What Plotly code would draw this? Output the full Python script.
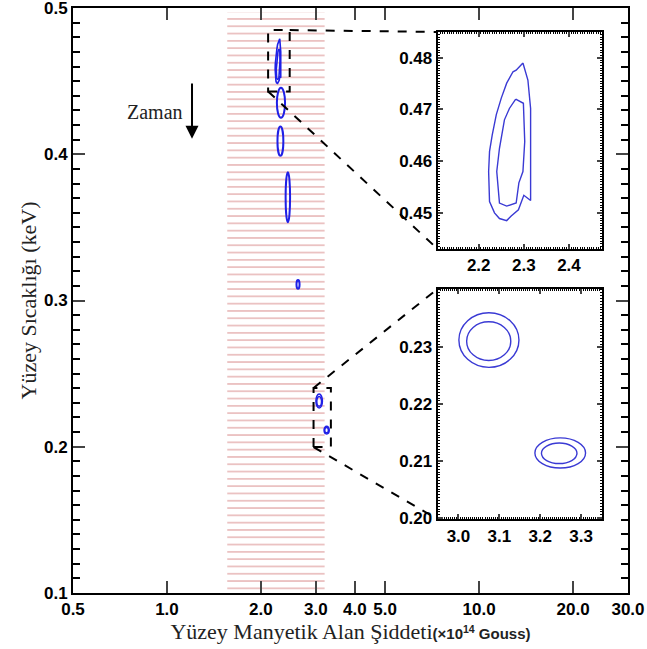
import math
import plotly.graph_objects as go

# ---------------- data ----------------
# main axes
x_tick_vals = [0.5, 1.0, 2.0, 3.0, 4.0, 5.0, 10.0, 20.0, 30.0]
x_tick_text = ["0.5", "1.0", "2.0", "3.0", "4.0", "5.0", "10.0", "20.0", "30.0"]
y_tick_vals = [0.1, 0.2, 0.3, 0.4, 0.5]
y_tick_text = ["0.1", "0.2", "0.3", "0.4", "0.5"]
x_range_main = [0.5, 30.0]
y_range_main = [0.0999, 0.5001]

# hatched band (allowed field range)
band_x = [1.56, 3.2]
band_y = [0.1, 0.497]

# contour (first epoch) - outer and inner confidence levels
c1_outer_x = [2.298, 2.283, 2.276, 2.262, 2.250, 2.239, 2.230, 2.224, 2.222, 2.224,
              2.235, 2.246, 2.262, 2.272, 2.288, 2.300, 2.315, 2.315, 2.309, 2.298]
c1_outer_y = [0.4790, 0.4776, 0.4773, 0.4751, 0.4722, 0.4690, 0.4651, 0.4619, 0.4580, 0.4522,
              0.4500, 0.4489, 0.4485, 0.4494, 0.4506, 0.4534, 0.4524, 0.4702, 0.4757, 0.4790]
c1_inner_x = [2.282, 2.299, 2.302, 2.298, 2.289, 2.283, 2.262, 2.246, 2.240, 2.246, 2.257, 2.268, 2.282]
c1_inner_y = [0.4720, 0.4712, 0.4638, 0.4580, 0.4558, 0.4519, 0.4513, 0.4519, 0.4580, 0.4625,
              0.4680, 0.4702, 0.4720]

# other epochs in main panel (bounding boxes of contours)
blob_xmin = [2.25, 2.26, 2.40, 2.60]
blob_xmax = [2.39, 2.36, 2.48, 2.66]
blob_ymin = [0.425, 0.399, 0.3536, 0.308]
blob_ymax = [0.4455, 0.419, 0.3877, 0.314]

# last two epochs (zoom panel 2): outer and inner contour bounding boxes
z2_xmin = [3.001, 3.020, 3.187, 3.203]
z2_xmax = [3.148, 3.128, 3.311, 3.290]
z2_ymin = [0.2264, 0.2276, 0.2087, 0.2095]
z2_ymax = [0.2360, 0.2344, 0.2140, 0.2131]

# zoom windows
zoom1_x = [2.109, 2.473]
zoom1_y = [0.443, 0.485]
zoom2_x = [2.949, 3.351]
zoom2_y = [0.1997, 0.2402]
zoom1_xticks = [2.2, 2.3, 2.4]
zoom1_yticks = [0.45, 0.46, 0.47, 0.48]
zoom2_xticks = [3.0, 3.1, 3.2, 3.3]
zoom2_yticks = [0.20, 0.21, 0.22, 0.23]

# ---------------- style ----------------
W, H = 647, 649
ML, MR, MT, MB = 73, 19, 8, 56
inset_xdom = [0.657, 0.953]
inset1_ydom = [0.588, 0.959]
inset2_ydom = [0.126, 0.520]
BLUE_MAIN = "#2020e6"
BLUE_IN = "#3a3ad4"
sans = "Liberation Sans, Arial, sans-serif"
tickfont = dict(family=sans, size=17, color="black")
insetfont = dict(family=sans, size=17, color="black")
serif = "Liberation Serif, Times New Roman, serif"


def bold(labels):
    return ["<b>%s</b>" % t for t in labels]


fig = go.Figure()

# hatched band
fig.add_trace(go.Scatter(
    x=[band_x[0], band_x[1], band_x[1], band_x[0], band_x[0]],
    y=[band_y[0], band_y[0], band_y[1], band_y[1], band_y[0]],
    mode="lines", fill="toself", line=dict(width=0),
    fillcolor="rgba(0,0,0,0)",
    fillpattern=dict(shape="-", size=7.3, solidity=0.24, fgcolor="#d47f7f",
                     bgcolor="rgba(0,0,0,0)"),
    hoverinfo="skip", showlegend=False, xaxis="x", yaxis="y"))

# first contour in main panel and in inset 1
for xs, ys in [(c1_outer_x, c1_outer_y), (c1_inner_x, c1_inner_y)]:
    fig.add_trace(go.Scatter(x=xs, y=ys, mode="lines", line=dict(color=BLUE_MAIN, width=1.6),
                             showlegend=False, xaxis="x", yaxis="y"))
    fig.add_trace(go.Scatter(x=xs, y=ys, mode="lines", line=dict(color=BLUE_IN, width=1.4),
                             showlegend=False, xaxis="x2", yaxis="y2"))

shapes = []
for x0, x1, y0, y1 in zip(blob_xmin, blob_xmax, blob_ymin, blob_ymax):
    shapes.append(dict(type="circle", xref="x", yref="y", x0=x0, x1=x1, y0=y0, y1=y1,
                       line=dict(color=BLUE_MAIN, width=2)))
for x0, x1, y0, y1 in zip(z2_xmin, z2_xmax, z2_ymin, z2_ymax):
    shapes.append(dict(type="circle", xref="x", yref="y", x0=x0, x1=x1, y0=y0, y1=y1,
                       line=dict(color=BLUE_MAIN, width=1.5)))
    shapes.append(dict(type="circle", xref="x3", yref="y3", x0=x0, x1=x1, y0=y0, y1=y1,
                       line=dict(color=BLUE_IN, width=1.4)))

# dashed zoom boxes
for zx, zy in [(zoom1_x, zoom1_y), (zoom2_x, zoom2_y)]:
    shapes.append(dict(type="rect", xref="x", yref="y", x0=zx[0], x1=zx[1], y0=zy[0], y1=zy[1],
                       line=dict(color="black", width=2, dash="dash")))

# connectors (data -> paper)
lx0, lx1 = math.log10(x_range_main[0]), math.log10(x_range_main[1])


def px(x):
    return (math.log10(x) - lx0) / (lx1 - lx0)


def py(y):
    return (y - y_range_main[0]) / (y_range_main[1] - y_range_main[0])


connectors = [
    ((zoom1_x[1], zoom1_y[1]), (inset_xdom[0], inset1_ydom[1])),
    ((zoom1_x[0], zoom1_y[0]), (inset_xdom[0], inset1_ydom[0])),
    ((zoom2_x[0], zoom2_y[1]), (inset_xdom[0], inset2_ydom[1])),
    ((zoom2_x[0], zoom2_y[0]), (inset_xdom[0], inset2_ydom[0])),
]
for (dx, dy), (qx, qy) in connectors:
    shapes.append(dict(type="line", xref="paper", yref="paper", x0=px(dx), y0=py(dy), x1=qx, y1=qy,
                       line=dict(color="black", width=2, dash="dash")))

axis_common = dict(showline=True, linecolor="black", linewidth=2, mirror="allticks",
                   ticks="inside", showgrid=False, zeroline=False, ticklabeloverflow="allow",
                   automargin=False)

fig.update_layout(
    width=W, height=H,
    margin=dict(l=ML, r=MR, t=MT, b=MB),
    paper_bgcolor="white", plot_bgcolor="white",
    showlegend=False,
    shapes=shapes,
    xaxis=dict(type="log", range=[lx0, lx1], domain=[0, 1], anchor="y",
               tickvals=x_tick_vals, ticktext=bold(x_tick_text), ticklen=12, tickwidth=2,
               tickfont=tickfont,
               title=dict(text="Yüzey Manyetik Alan Şiddeti<span style='font-family:Liberation Sans;font-weight:bold;font-size:15px'>(×10<sup>14</sup> Gouss)</span>",
                          font=dict(family=serif, size=22, color="#222"), standoff=0),
               **axis_common),
    yaxis=dict(range=y_range_main, domain=[0, 1], anchor="x",
               tickvals=y_tick_vals, ticktext=bold(y_tick_text), ticklen=12, tickwidth=2,
               tickfont=tickfont,
               minor=dict(dtick=0.01, ticklen=7, tickwidth=2, ticks="inside", tickcolor="black"),
               title=dict(text="Yüzey Sıcaklığı (keV)", font=dict(family=serif, size=22, color="#222"),
                          standoff=1),
               **axis_common),
    xaxis2=dict(range=zoom1_x, domain=inset_xdom, anchor="y2", tickvals=zoom1_xticks,
                ticktext=bold(["%.1f" % v for v in zoom1_xticks]),
                ticklen=5, tickwidth=1.5, tickfont=insetfont,
                minor=dict(dtick=0.005, ticklen=2, tickwidth=1, ticks="inside", tickcolor="black"),
                **axis_common),
    yaxis2=dict(range=zoom1_y, domain=inset1_ydom, anchor="x2", tickvals=zoom1_yticks,
                ticktext=bold(["%.2f" % v for v in zoom1_yticks]),
                ticklen=5, tickwidth=1.5, tickfont=insetfont,
                minor=dict(dtick=0.0005, ticklen=2, tickwidth=1, ticks="inside", tickcolor="black"),
                **axis_common),
    xaxis3=dict(range=zoom2_x, domain=inset_xdom, anchor="y3", tickvals=zoom2_xticks,
                ticktext=bold(["%.1f" % v for v in zoom2_xticks]),
                ticklen=5, tickwidth=1.5, tickfont=insetfont,
                minor=dict(dtick=0.005, ticklen=2, tickwidth=1, ticks="inside", tickcolor="black"),
                **axis_common),
    yaxis3=dict(range=zoom2_y, domain=inset2_ydom, anchor="x3", tickvals=zoom2_yticks,
                ticktext=bold(["%.2f" % v for v in zoom2_yticks]),
                ticklen=5, tickwidth=1.5, tickfont=insetfont,
                minor=dict(dtick=0.0005, ticklen=2, tickwidth=1, ticks="inside", tickcolor="black"),
                **axis_common),
)

# "Zaman" (time) label with downward arrow
fig.add_annotation(x=math.log10(0.916), y=0.429, xref="x", yref="y", text="Zaman",
                   showarrow=False, font=dict(family=serif, size=20, color="#222"))
fig.add_annotation(x=math.log10(1.203), y=0.4107, xref="x", yref="y",
                   ax=math.log10(1.203), ay=0.4495, axref="x", ayref="y",
                   text="", showarrow=True, arrowhead=2, arrowsize=1.3, arrowwidth=2,
                   arrowcolor="black")

fig.write_html("out.html")
